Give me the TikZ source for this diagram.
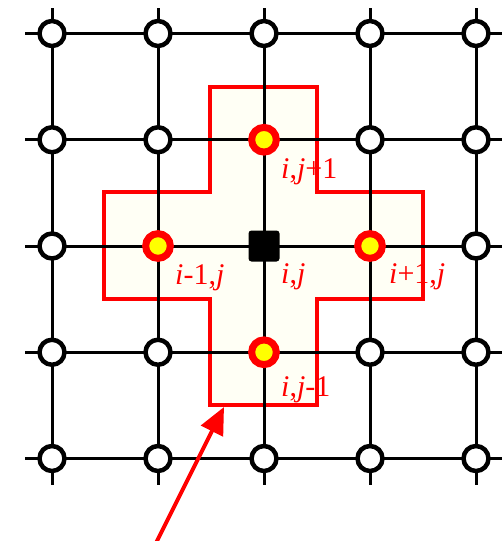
\documentclass[tikz,border=0pt]{standalone}
\usepackage{fontspec}
\setmainfont{Liberation Serif}
\usetikzlibrary{arrows.meta}
\definecolor{crossfill}{RGB}{255,255,245}
\definecolor{labred}{RGB}{255,0,0}
\definecolor{dotyellow}{RGB}{255,255,0}
\begin{document}
\begin{tikzpicture}[x=1pt,y=-1pt,
  gridline/.style={line width=3pt, black},
  crossline/.style={draw=labred, line width=4pt, fill=crossfill, line join=miter},
  opennode/.style={circle, draw=black, fill=white, line width=4.5pt, minimum size=25pt, inner sep=0pt},
  hotnode/.style={circle, draw=labred, fill=dotyellow, line width=7pt, minimum size=24.7pt, inner sep=0pt},
  centernode/.style={rectangle, fill=black, rounded corners=3pt, minimum size=31pt, inner sep=0pt},
  lab/.style={text=labred, anchor=base west, inner sep=0pt, font=\fontsize{30}{30}\selectfont},
  pointer/.style={draw=labred, line width=4pt, -{Triangle[length=27pt,width=24pt]}}]
\useasboundingbox (0,0) rectangle (502,541);
% stencil
\path[crossline] (210,87) -- (317,87) -- (317,192) -- (423,192) -- (423,299) -- (317,299)
  -- (317,405) -- (210,405) -- (210,299) -- (104,299) -- (104,192) -- (210,192) -- cycle;
% grid line ends
\foreach \k in {0,...,4} {
  \coordinate (hl\k) at (25, 33.5+106.25*\k);
  \coordinate (hr\k) at (502, 33.5+106.25*\k);
  \coordinate (vt\k) at (52+106*\k, 8);
  \coordinate (vb\k) at (52+106*\k, 485);
}
\foreach \k in {0,...,4} {
  \draw[gridline] (hl\k) -- (hr\k);
  \draw[gridline] (vt\k) -- (vb\k);
}
% open grid points
\foreach \c/\r in {0/0,1/0,2/0,3/0,4/0, 0/1,1/1,3/1,4/1, 0/2,4/2, 0/3,1/3,3/3,4/3, 0/4,1/4,2/4,3/4,4/4} {
  \node[opennode] (n\c\r) at (52+106*\c, 33.5+106.25*\r) {};
}
% stencil points
\node[hotnode] (n21) at (264, 139.75) {};
\node[hotnode] (n12) at (158, 246) {};
\node[hotnode] (n32) at (370, 246) {};
\node[hotnode] (n23) at (264, 352.25) {};
\node[centernode] (n22) at (264, 246) {};
% labels
\node[lab] (l21) at (281, 178) {\textit{i},\textit{j}+1};
\node[lab] (l12) at (175, 284) {\textit{i}-1,\textit{j}};
\node[lab] (l22) at (281, 283) {\textit{i},\textit{j}};
\node[lab] (l32) at (389, 283) {\textit{i}+1,\textit{j}};
\node[lab] (l23) at (281, 396) {\textit{i},\textit{j}-1};
% pointer arrow
\coordinate (arrowstart) at (150,555);
\coordinate (arrowtip) at (224,407);
\draw[pointer] (arrowstart) -- (arrowtip);
\end{tikzpicture}
\end{document}
